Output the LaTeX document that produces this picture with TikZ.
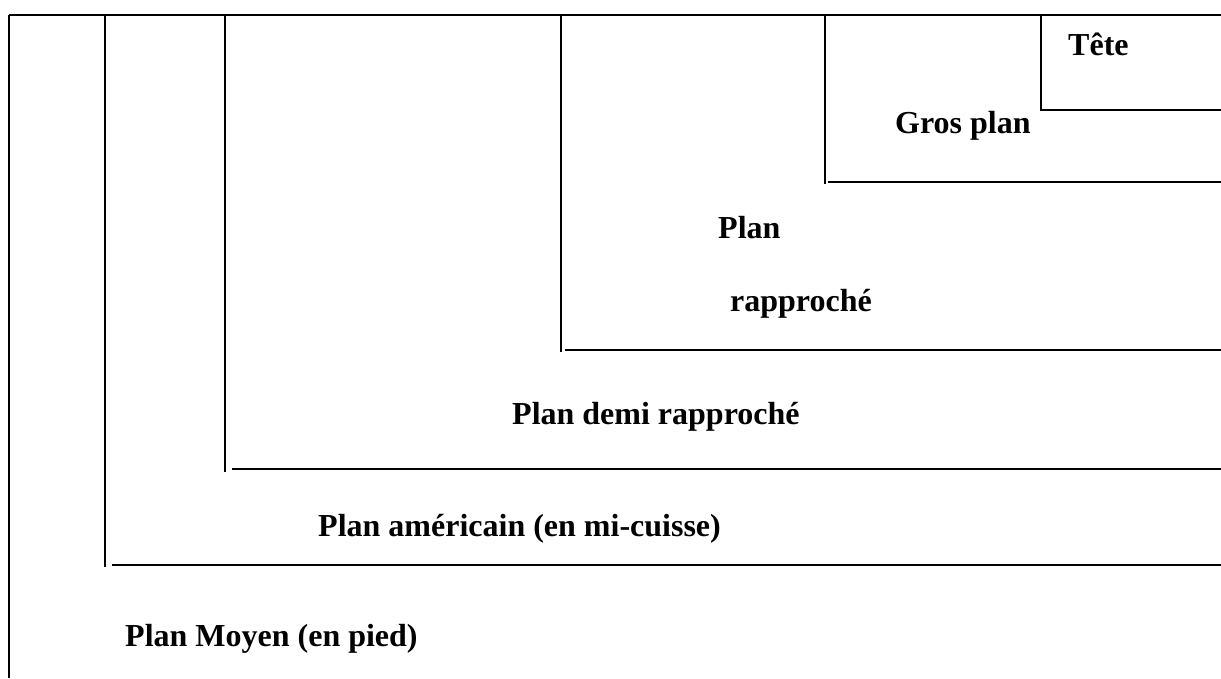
\documentclass[tikz,border=0pt]{standalone}
\usepackage{fontspec}
\setmainfont{Liberation Serif}
\begin{document}
\begin{tikzpicture}[x=1pt,y=-1pt,
  frame/.style={line width=2pt,black},
  lbl/.style={anchor=base west,inner sep=0pt,font=\fontsize{32}{38}\selectfont\bfseries}]
\useasboundingbox (0,0) rectangle (1221,678);
% outer frame
\draw[frame] (9,15) -- (1221,15);
\draw[frame] (9,15) -- (9,678);
% Plan americain
\draw[frame] (105,15) -- (105,567);
\draw[frame] (112,565) -- (1221,565);
% Plan demi rapproche
\draw[frame] (225,15) -- (225,472);
\draw[frame] (232,469) -- (1221,469);
% Plan rapproche
\draw[frame] (561,15) -- (561,352);
\draw[frame] (565,350) -- (1221,350);
% Gros plan
\draw[frame] (825,15) -- (825,184);
\draw[frame] (828,182) -- (1221,182);
% Tete
\draw[frame] (1041,15) -- (1041,110) -- (1221,110);
% labels
\node[lbl] (tete) at (1068,55) {Tête};
\node[lbl] (gros) at (895,133) {Gros plan};
\node[lbl] (plan) at (718,238) {Plan};
\node[lbl] (rapp) at (730,311) {rapproché};
\node[lbl] (demi) at (512,424) {Plan demi rapproché};
\node[lbl] (amer) at (318,536) {Plan américain (en mi-cuisse)};
\node[lbl] (moyen) at (125,646) {Plan Moyen (en pied)};
\end{tikzpicture}
\end{document}
